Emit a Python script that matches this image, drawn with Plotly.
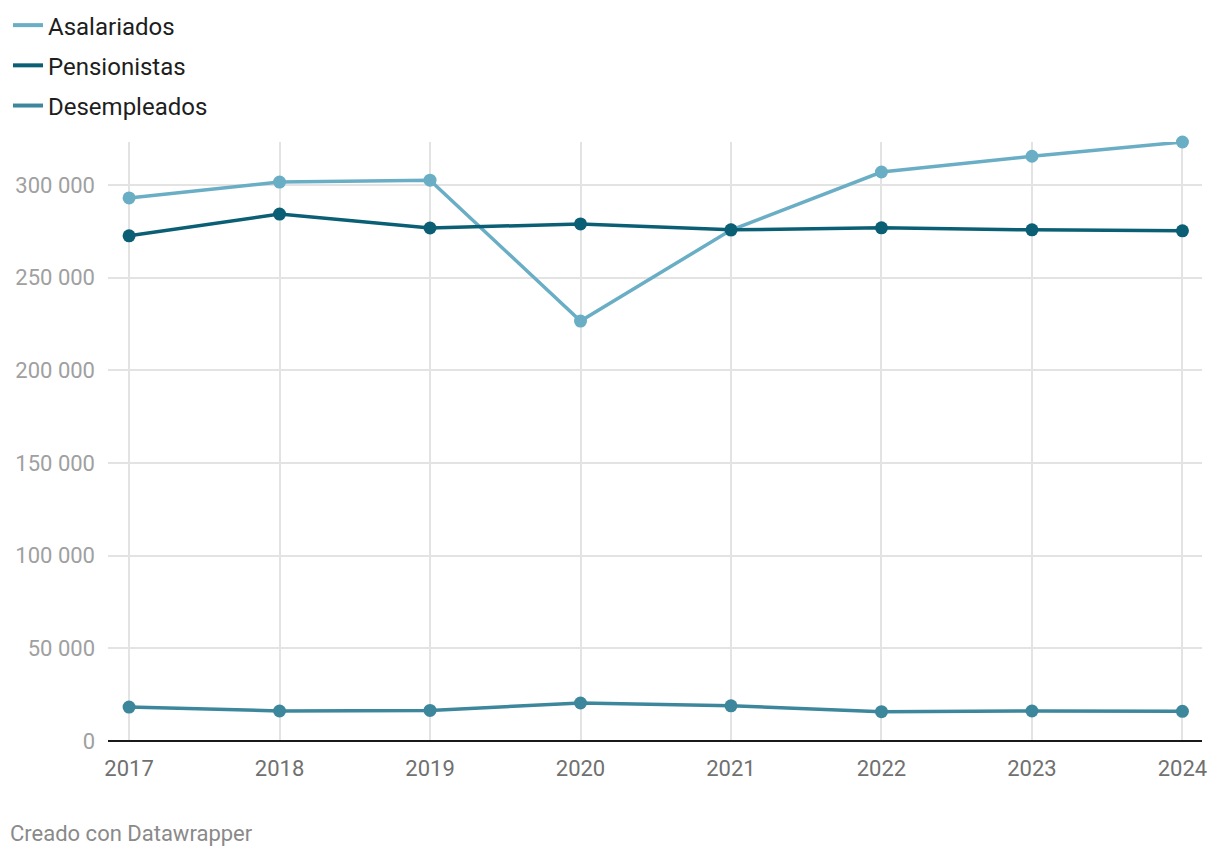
import plotly.graph_objects as go

years = [2017, 2018, 2019, 2020, 2021, 2022, 2023, 2024]
asalariados = [293000, 301600, 302600, 226600, 275700, 307000, 315500, 323200]
pensionistas = [272600, 284300, 276800, 279000, 275800, 276900, 275800, 275300]
desempleados = [18300, 16200, 16500, 20500, 19000, 15800, 16200, 16000]

series = [
    ("Asalariados", asalariados, "#6aaec6"),
    ("Pensionistas", pensionistas, "#0b5f74"),
    ("Desempleados", desempleados, "#3d879d"),
]

y_ticks = [0, 50000, 100000, 150000, 200000, 250000, 300000]
y_tick_text = ["0", "50 000", "100 000", "150 000", "200 000", "250 000", "300 000"]

fig = go.Figure()
for name, vals, color in series:
    fig.add_trace(go.Scatter(
        x=years, y=vals, mode="lines+markers", name=name,
        line=dict(color=color, width=3.5),
        marker=dict(color=color, size=13),
        showlegend=False, legendgroup=name, cliponaxis=False,
    ))
for name, vals, color in series:
    fig.add_trace(go.Scatter(
        x=[None], y=[None], mode="lines", name=name,
        line=dict(color=color, width=4),
        showlegend=True, legendgroup=name,
    ))

fig.update_layout(
    width=1220, height=860,
    margin=dict(l=100, r=26, t=134, b=127, autoexpand=False),
    paper_bgcolor="white", plot_bgcolor="white",
    font=dict(family="Roboto", size=20, color="#222222"),
    legend=dict(
        x=-0.0914, y=1.232,
        xanchor="left", yanchor="top",
        orientation="v", tracegroupgap=6,
        font=dict(family="Roboto", size=24, color="#1e1e1e"),
        itemwidth=30, bgcolor="rgba(0,0,0,0)",
    ),
    xaxis=dict(
        range=[2016.86, 2024.13], automargin=False,
        tickvals=years, ticktext=[str(y) for y in years],
        showgrid=True, gridcolor="#e3e3e3", gridwidth=1.5,
        zeroline=False, showline=False, ticks="", ticklabelstandoff=12,
        tickfont=dict(family="Roboto", size=22, color="#707070"),
    ),
    yaxis=dict(
        range=[0, 323200], automargin=False,
        tickvals=y_ticks, ticktext=y_tick_text,
        showgrid=True, gridcolor="#e3e3e3", gridwidth=1.5,
        zeroline=True, zerolinecolor="#1a1a1a", zerolinewidth=2,
        showline=False, ticks="", ticklabelstandoff=12,
        tickfont=dict(family="Roboto", size=22, color="#a0a0a0"),
    ),
)
fig.add_annotation(
    text="Creado con Datawrapper", xref="paper", yref="paper",
    x=-0.0914, y=-0.1536, xanchor="left", yanchor="middle", showarrow=False,
    font=dict(family="Roboto", size=22, color="#8a8a8a"),
)

fig.write_html("out.html")
